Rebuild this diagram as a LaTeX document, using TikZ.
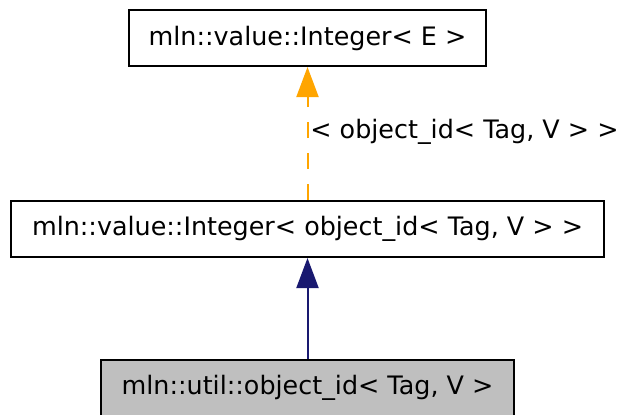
\documentclass[tikz,border=0pt]{standalone}
\usepackage{fontspec}
\setmainfont{DejaVu Sans}
\usetikzlibrary{arrows.meta}

\definecolor{edgeorange}{RGB}{255,165,0}
\definecolor{edgenavy}{RGB}{25,25,112}

\begin{document}
\begin{tikzpicture}[x=0.5pt, y=-0.5pt,
    classbox/.style={draw=black, line width=1pt, inner sep=0pt,
      minimum height=28pt, font=\fontsize{12.7}{15}\selectfont},
    tmplarrow/.style={draw=edgeorange, line width=1pt, dash pattern=on 8pt off 7.5pt,
      -{Triangle[length=15pt, width=11pt, fill=edgeorange]}},
    inhtarrow/.style={draw=edgenavy, line width=1pt,
      -{Triangle[length=15pt, width=11pt, fill=edgenavy]}}]

  \useasboundingbox (0,0) rectangle (619,414);

  % Classes
  \node[classbox, minimum width=178.5pt] (intE)   at (307.5,38)  {mln::value::Integer< E >};
  \node[classbox, minimum width=296.5pt] (intobj) at (307.5,229) {mln::value::Integer< object\_id< Tag, V > >};
  \node[classbox, minimum width=206.5pt, fill=black!25] (objid) at (307.5,388) {mln::util::object\_id< Tag, V >};

  % Edges
  \draw[tmplarrow] (intobj.north) -- (intE.south);
  \draw[inhtarrow] (objid.north) -- (intobj.south);

  \node[anchor=west, inner sep=0pt, font=\fontsize{12.7}{15}\selectfont] (tmplabel) at (310,132)
    {< object\_id< Tag, V > >};

\end{tikzpicture}
\end{document}
